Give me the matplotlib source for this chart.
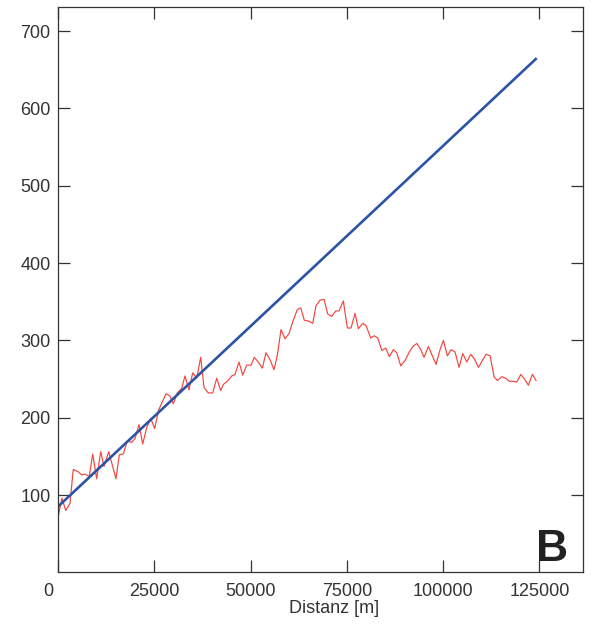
import matplotlib
matplotlib.use('Agg')
import matplotlib.pyplot as plt
import matplotlib.transforms as mtransforms

dist = [0, 1030, 1990, 3100, 3960, 5260, 6140, 7000, 8120, 9000,
        10040, 11080, 11940, 13160, 15050, 15910, 16950, 17990, 19130, 19990,
        21030, 21990, 23030, 24070, 25100, 26140, 28040, 29080, 29940, 30970,
        32120, 32970, 34010, 34970, 36010, 37050, 37910, 39030, 40170, 41210,
        42250, 42920, 43960, 45100, 45960, 47000, 47960, 49000, 50120, 50970,
        52010, 53050, 54010, 55050, 56090, 56950, 57910, 58950, 59990, 61100,
        62140, 63030, 63960, 65000, 66140, 67000, 68040, 69080, 70040, 71080,
        72120, 72970, 74090, 75130, 76090, 77130, 77990, 79130, 79990, 81210,
        82070, 83030, 84070, 85100, 86040, 87080, 87960, 89000, 90120, 91230,
        92120, 93160, 94200, 95050, 96170, 97210, 98170, 99210, 100070, 101100,
        102070, 103100, 104140, 105100, 106140, 107180, 108120, 109160, 110200, 111160,
        112200, 113230, 114090, 115230, 116270, 117210, 118250, 119130, 120170, 121100,
        122140, 123180, 124140]
measured = [71, 96, 80, 89, 133, 130, 126, 127, 124, 153,
            121, 156, 137, 156, 121, 152, 153, 170, 168, 173,
            191, 166, 187, 199, 186, 210, 231, 228, 218, 232,
            238, 254, 236, 258, 251, 278, 239, 232, 232, 251,
            235, 243, 247, 254, 256, 272, 255, 268, 268, 278,
            272, 264, 284, 275, 262, 281, 314, 302, 309, 326,
            340, 342, 326, 325, 322, 345, 352, 353, 334, 331,
            338, 338, 351, 316, 316, 335, 315, 322, 319, 303,
            306, 303, 287, 290, 279, 288, 284, 267, 274, 285,
            292, 296, 288, 278, 292, 280, 269, 288, 300, 280,
            288, 285, 265, 283, 272, 282, 276, 265, 274, 282,
            280, 253, 248, 253, 251, 247, 247, 246, 256, 250,
            242, 256, 248]

# straight reference line (blue)
trend_x = [0, 124300]
trend_y = [85, 665]

xticks = [0, 25000, 50000, 75000, 100000, 125000]
yticks = [100, 200, 300, 400, 500, 600, 700]

plt.rcParams['font.family'] = ['Liberation Sans', 'DejaVu Sans']

fig = plt.figure(figsize=(5.92, 6.31), dpi=100)
ax = fig.add_axes([0.098, 0.093, 0.8873, 0.8957])

ax.plot(dist, measured, color='#F2453D', linewidth=0.85)
ax.plot(trend_x, trend_y, color='#2C54A4', linewidth=1.9, solid_capstyle='butt')

ax.set_xlim(0, 136400)
ax.set_ylim(0, 731)
ax.set_xticks(xticks)
ax.set_yticks(yticks)
ax.set_xticklabels([str(t) for t in xticks])

ax.tick_params(direction='in', length=8.5, width=0.9, color='#333333',
               labelsize=13, labelcolor='#333333',
               top=True, right=True)
ax.tick_params(axis='x', pad=7.5)
ax.tick_params(axis='y', pad=5.5)

# the 0 label sits left of its tick in the original
lbl0 = ax.get_xticklabels()[0]
lbl0.set_horizontalalignment('right')
lbl0.set_transform(lbl0.get_transform() + mtransforms.ScaledTranslation(-5/100, 0, fig.dpi_scale_trans))

for sp in ax.spines.values():
    sp.set_color('#333333')
    sp.set_linewidth(0.9)

ax.set_xlabel('Distanz [m]', fontsize=13, color='#333333')
ax.xaxis.set_label_coords(0.526, -0.064)
ax.xaxis.label.set_verticalalignment('center')

ax.text(0.971, 0.02, 'B', transform=ax.transAxes, fontsize=32, fontweight='bold',
        color='#222222', ha='right', va='baseline')

plt.savefig('out.png', dpi=100)
